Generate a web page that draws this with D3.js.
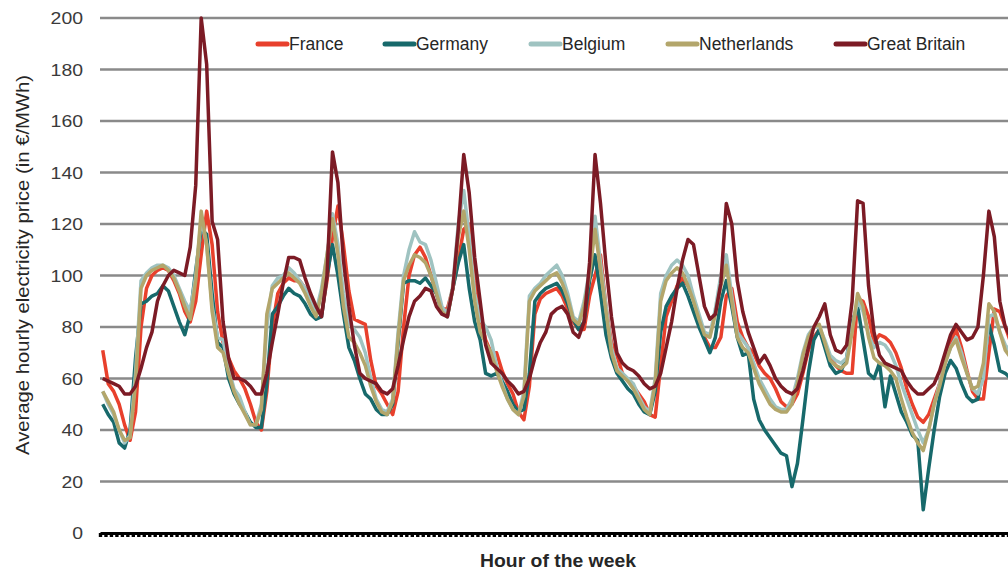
<!DOCTYPE html>
<html>
<head>
<meta charset="utf-8">
<script src="https://cdn.jsdelivr.net/npm/d3@7"></script>
<style>
  html, body { margin: 0; padding: 0; background: #fff; }
  svg { display: block; font-family: "Liberation Sans", Arial, sans-serif; }
</style>
</head>
<body>
<script>
// hourly prices (EUR/MWh), one value per hour of the week
const france = [
  71,58,55,50,42,36,47,80,95,100,102,103,102,98,93,86,82,90,108,125,112,86,74,68,
  63,60,56,50,43,40,55,80,93,97,99,98,98,95,90,88,85,98,115,127,112,94,83,82,
  81,67,57,54,50,46,55,80,100,108,111,107,100,93,87,87,95,106,118,120,98,84,75,70,
  70,63,58,54,47,44,57,85,91,93,94,95,92,87,82,79,79,92,100,108,88,74,69,62,
  59,57,54,51,46,45,65,84,90,96,99,96,91,83,76,72,72,76,92,95,82,76,72,70,
  65,62,60,56,51,49,50,54,62,71,76,79,74,68,65,63,62,62,91,90,84,74,77,76,
  74,70,64,56,50,45,43,46,52,58,66,74,79,72,63,55,52,52,70,87,86,80,74,70
];
const germany = [
  50,46,43,35,33,40,68,89,90,92,93,96,94,88,82,77,85,102,118,116,93,74,72,60,
  54,50,47,43,41,41,58,85,88,92,95,93,92,89,85,83,84,100,112,100,85,72,67,60,
  54,52,48,46,46,50,74,97,98,98,97,99,96,93,86,84,95,105,112,95,82,75,62,61,
  62,59,55,50,47,48,62,90,93,95,96,97,94,89,83,79,82,98,108,93,77,68,62,59,
  56,54,50,47,46,55,78,88,92,95,97,92,86,80,75,70,76,90,98,88,76,69,70,52,
  44,40,37,34,31,30,18,27,44,62,75,79,72,65,62,63,68,82,88,75,62,60,66,49,
  61,54,47,43,38,36,9,25,40,53,62,67,64,58,53,51,52,64,81,73,63,62,60,58
];
const belgium = [
  55,50,46,40,35,38,62,98,101,103,104,104,103,100,95,90,86,100,122,112,88,76,75,64,
  56,53,47,42,42,50,80,96,99,100,103,101,98,95,91,86,95,108,124,112,93,81,79,76,
  70,60,52,48,47,52,78,100,110,117,113,112,106,97,88,85,96,120,133,115,93,83,80,75,
  65,58,52,48,46,55,92,95,97,100,102,104,100,93,84,82,90,102,123,105,88,72,64,62,
  60,58,53,49,47,60,93,100,104,106,104,100,92,85,78,77,87,100,108,92,78,75,72,66,
  60,56,52,49,48,48,52,60,70,77,80,80,75,69,67,66,68,80,90,86,77,72,74,73,
  70,65,58,52,46,40,35,40,50,58,66,72,76,70,62,56,54,60,84,85,78,73,70,68
];
const netherlands = [
  55,51,47,40,36,37,58,95,100,102,103,104,102,99,94,88,83,98,125,112,86,72,70,62,
  55,50,46,42,42,48,85,95,97,99,101,99,97,93,88,84,93,108,122,108,88,76,74,70,
  65,57,51,47,46,51,76,98,104,108,107,105,100,93,86,84,95,115,125,110,90,78,74,70,
  63,57,52,48,46,53,90,94,96,98,100,101,97,91,83,81,88,100,118,102,86,70,63,61,
  59,56,52,48,46,58,90,98,101,103,101,96,90,83,77,76,85,96,104,90,76,72,70,64,
  58,54,50,48,47,47,50,58,69,76,80,81,74,67,65,64,66,78,93,88,76,68,66,65,
  63,60,52,45,39,35,32,40,50,57,66,72,75,68,62,56,57,66,89,86,78,71,68,66
];
const greatBritain = [
  60,59,58,57,54,54,57,64,72,78,90,96,100,102,101,100,111,135,200,182,121,114,82,68,
  60,60,59,57,54,54,62,74,85,97,107,107,106,99,93,88,84,100,148,136,106,88,73,62,
  60,59,58,55,54,56,65,75,84,90,92,95,94,88,85,84,95,118,147,132,107,90,73,66,
  64,62,59,57,54,55,60,68,74,78,85,87,88,85,78,76,82,105,147,128,104,84,70,66,
  64,63,61,58,56,57,62,72,82,95,106,114,112,100,88,83,85,97,128,120,98,86,78,72,
  66,69,65,60,57,55,54,56,63,72,80,84,89,77,71,70,73,90,129,128,96,78,69,66,
  65,64,63,59,56,54,54,56,58,63,70,77,81,78,75,76,80,100,125,115,90,80,76,72
];

const countries = ['France', 'Germany', 'Belgium', 'Netherlands', 'Great Britain'];
const colors = ['#e8402c', '#17696b', '#9fc3c1', '#b3a66b', '#7c1b25'];
const yTicks = [0, 20, 40, 60, 80, 100, 120, 140, 160, 180, 200];

const series = countries.map((name, i) => ({
  name: name,
  color: colors[i],
  values: [france, germany, belgium, netherlands, greatBritain][i]
}));

const width = 1008, height = 572;
const hours = france.length;
const left = 100, hourW = 5.47;

const x = d3.scaleLinear()
    .domain([0, hours])
    .range([left, left + hours * hourW]);

const y = d3.scaleLinear()
    .domain([0, 200])
    .range([533, 18]);

const svg = d3.select('body')
  .append('svg')
    .attr('width', width)
    .attr('height', height);

// gridlines
svg.append('g')
  .selectAll('line')
  .data(yTicks.filter(d => d > 0))
  .join('line')
    .attr('x1', x(0))
    .attr('x2', x(hours))
    .attr('y1', d => y(d))
    .attr('y2', d => y(d))
    .attr('stroke', '#8a8a8a')
    .attr('stroke-width', 2.6);

// y tick labels (source text is a bit wide, hence the textLength)
svg.append('g')
  .selectAll('text')
  .data(yTicks)
  .join('text')
    .attr('x', 83)
    .attr('y', d => y(d))
    .attr('dy', '0.36em')
    .attr('text-anchor', 'end')
    .attr('font-size', 17)
    .attr('textLength', d => String(d).length * 10.8)
    .attr('lengthAdjust', 'spacingAndGlyphs')
    .attr('fill', '#3a3a3a')
    .text(d => d);

// x axis: one tick per hour, no labels
const xAxis = d3.axisBottom(x)
    .tickValues(d3.range(0, hours + 1))
    .tickFormat('')
    .tickSize(4)
    .tickSizeOuter(0);

const gx = svg.append('g')
    .attr('transform', `translate(0,${y(0)})`)
    .call(xAxis);
gx.select('.domain').attr('stroke', '#000').attr('stroke-width', 3);
gx.selectAll('.tick line').attr('stroke', '#000').attr('stroke-width', 3.4);

// lines
const line = d3.line()
    .x((d, i) => x(i + 0.5))
    .y(d => y(d));

svg.append('g')
  .selectAll('path')
  .data(series)
  .join('path')
    .attr('d', d => line(d.values))
    .attr('fill', 'none')
    .attr('stroke', d => d.color)
    .attr('stroke-width', 3.5)
    .attr('stroke-linejoin', 'round');

// legend
const legendX = [258, 385, 531, 668, 836];
const legend = svg.append('g')
  .selectAll('g')
  .data(series)
  .join('g')
    .attr('transform', (d, i) => `translate(${legendX[i]},44)`);

legend.append('line')
    .attr('x1', 0)
    .attr('x2', 29)
    .attr('stroke', d => d.color)
    .attr('stroke-width', 5)
    .attr('stroke-linecap', 'round');

legend.append('text')
    .attr('x', 31)
    .attr('dy', '0.35em')
    .attr('font-size', 17.5)
    .attr('fill', '#262626')
    .text(d => d.name);

// axis titles
svg.append('text')
    .attr('transform', 'translate(22,265) rotate(-90)')
    .attr('text-anchor', 'middle')
    .attr('dy', '0.35em')
    .attr('font-size', 19)
    .attr('textLength', 380)
    .attr('lengthAdjust', 'spacingAndGlyphs')
    .attr('fill', '#262626')
    .text('Average hourly electricity price (in €/MWh)');

svg.append('text')
    .attr('x', 558)
    .attr('y', 561)
    .attr('dy', '0.35em')
    .attr('text-anchor', 'middle')
    .attr('font-size', 18)
    .attr('textLength', 156)
    .attr('lengthAdjust', 'spacingAndGlyphs')
    .attr('font-weight', 'bold')
    .attr('fill', '#262626')
    .text('Hour of the week');
</script>
</body>
</html>
